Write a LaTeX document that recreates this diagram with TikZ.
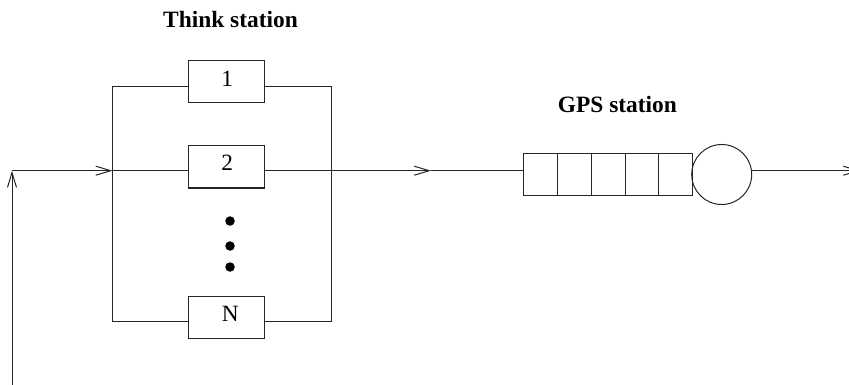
\documentclass[tikz,border=0pt]{standalone}
\usepackage{fontspec}
\setmainfont{Liberation Serif}
\usetikzlibrary{arrows.meta}
\tikzset{
  x=1pt,y=-1pt,
  wire/.style={draw=black!85,line width=1pt},
  barb/.style={wire,-{Straight Barb[length=15pt,width=9pt,line width=1pt]}},
  stationbox/.style={draw=black!85,line width=1pt,minimum width=76pt,minimum height=42pt,inner sep=0pt},
  cell/.style={draw=black!85,line width=1pt,minimum width=33.7pt,minimum height=42.2pt,inner sep=0pt},
  server/.style={circle,draw=black!85,line width=1pt,minimum size=60pt,inner sep=0pt},
  title/.style={font=\fontsize{23.4}{28}\selectfont\bfseries,inner sep=0pt,anchor=base},
  boxlabel/.style={font=\fontsize{23.3}{28}\selectfont,inner sep=0pt,anchor=base},
  dotmark/.style={circle,fill=black,minimum size=9.5pt,inner sep=0pt}
}
\begin{document}
\begin{tikzpicture}
\useasboundingbox (0,0) rectangle (849,385);
\clip (0,0) rectangle (849,385);
\node[title] (think) at (230.5,27.7) {Think station};
\node[title] (gps) at (617.4,112.7) {GPS station};
\node[stationbox] (b1) at (226,82) {};
\node[stationbox] (b2) at (226,167) {};
\node[stationbox] (bn) at (226,317) {};
\node[boxlabel] (l1) at (227.3,87) {1};
\node[boxlabel] (l2) at (227.3,170.7) {2};
\node[boxlabel] (ln) at (230.2,321.7) {N};
\node[dotmark] (d1) at (230,221) {};
\node[dotmark] (d2) at (230,246) {};
\node[dotmark] (d3) at (230,267) {};
\node[cell] (q1) at (540.8,174.6) {};
\node[cell] (q2) at (574.5,174.6) {};
\node[cell] (q3) at (608.2,174.6) {};
\node[cell] (q4) at (641.9,174.6) {};
\node[cell] (q5) at (675.6,174.6) {};
\node[server] (srv) at (721.7,174.5) {};
\coordinate (src) at (12,386);
\coordinate (corner) at (12,170.7);
\coordinate (jl) at (112.5,170.7);
\coordinate (jr) at (331,170.7);
\coordinate (mid) at (431,170.7);
\coordinate (ql) at (q1.west |- jl);
\coordinate (end) at (860,170.7);
\coordinate (b1l) at (b1.west |- 0,87);
\coordinate (b1r) at (b1.east |- 0,87);
\coordinate (b2l) at (b2.west |- jl);
\coordinate (b2r) at (b2.east |- jl);
\coordinate (bnl) at (bn.west |- 0,321.7);
\coordinate (bnr) at (bn.east |- 0,321.7);
\coordinate (sr) at (751.6,170.7);
\draw[barb] (src) -- (corner);
\draw[barb] (corner) -- (jl);
\draw[wire] (jl) -- (b2l);
\draw[wire] (b2r) -- (jr);
\draw[barb] (jr) -- (mid);
\draw[wire] (mid) -- (ql);
\draw[barb] (sr) -- (end);
\draw[wire,line join=miter] (b1l) -- (jl |- b1l) -- (jl |- bnl) -- (bnl);
\draw[wire,line join=miter] (b1r) -- (jr |- b1r) -- (jr |- bnr) -- (bnr);
\end{tikzpicture}
\end{document}
